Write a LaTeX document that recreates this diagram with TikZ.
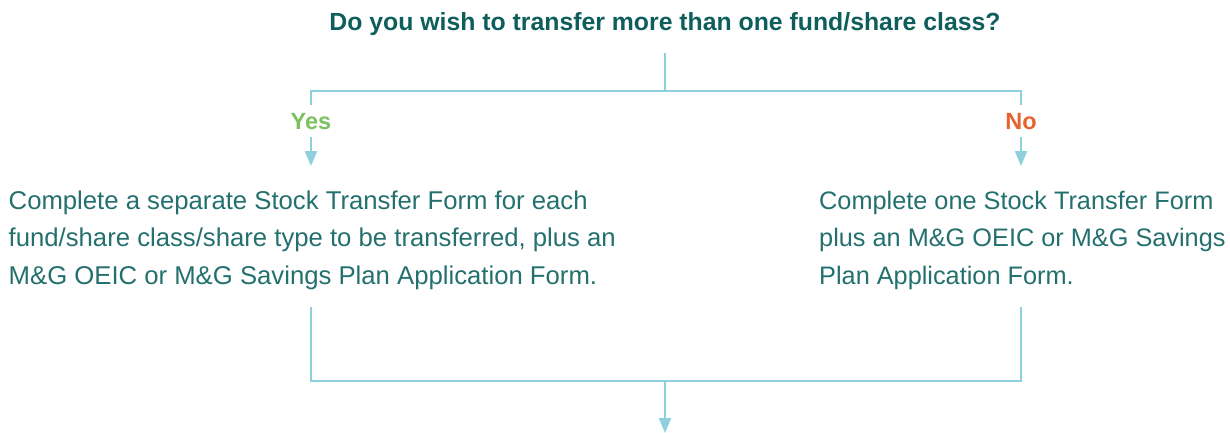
\documentclass[tikz,border=0pt]{standalone}
\usepackage{fontspec}
\setmainfont{Liberation Sans}
\usetikzlibrary{arrows.meta}
\definecolor{titlecol}{HTML}{0E5E5C}
\definecolor{bodycol}{HTML}{23706E}
\definecolor{linecol}{HTML}{8FD0DE}
\definecolor{yescol}{HTML}{7DC05E}
\definecolor{nocol}{HTML}{E8622E}
\begin{document}
\begin{tikzpicture}[x=1pt,y=-1pt,
  conn/.style={draw=linecol,line width=2pt},
  arr/.style={conn,-{Triangle[length=15pt,width=12pt]}},
  titletext/.style={inner sep=0pt,anchor=base,text=titlecol,font={\fontsize{24.8}{30}\selectfont\bfseries}},
  answer/.style={inner sep=0pt,anchor=base,font={\fontsize{23.5}{28}\selectfont\bfseries}},
  bodytext/.style={inner sep=0pt,anchor=north west,align=left,text=bodycol,font={\fontsize{25.7}{37.5}\selectfont}}]
\useasboundingbox (0,0) rectangle (1230,432);
\node[titletext] (title) at (665,30) {Do you wish to transfer more than one fund/share class?};
\coordinate (topstart) at (665,53);
\coordinate (split) at (665,91);
\coordinate (splitL) at (311,91);
\coordinate (splitR) at (1021,91);
\node[answer,text=yescol] (yes) at (311,129) {Yes};
\node[answer,text=nocol] (no) at (1021,129) {No};
\coordinate (yesend) at (311,105);
\coordinate (noend) at (1021,105);
\coordinate (yesstart) at (311,137);
\coordinate (nostart) at (1021,137);
\coordinate (yestip) at (311,166);
\coordinate (notip) at (1021,166);
\node[bodytext] (left) at (8.5,190.5) {Complete a separate Stock Transfer Form for each\\fund/share class/share type to be transferred, plus an\\M\&G OEIC or M\&G Savings Plan Application Form.};
\node[bodytext,font={\fontsize{25.3}{37.5}\selectfont}] (right) at (819,190.5) {Complete one Stock Transfer Form\\plus an M\&G OEIC or M\&G Savings\\Plan Application Form.};
\coordinate (leftout) at (311,307);
\coordinate (rightout) at (1021,307);
\coordinate (joinL) at (311,380.5);
\coordinate (joinR) at (1021,380.5);
\coordinate (join) at (665,380.5);
\coordinate (endtip) at (665,433);
\draw[conn] (topstart) -- (split);
\draw[conn] (yesend) -- (splitL) -- (splitR) -- (noend);
\draw[arr] (yesstart) -- (yestip);
\draw[arr] (nostart) -- (notip);
\draw[conn] (leftout) -- (joinL) -- (joinR) -- (rightout);
\draw[arr] (join) -- (endtip);
\end{tikzpicture}
\end{document}
